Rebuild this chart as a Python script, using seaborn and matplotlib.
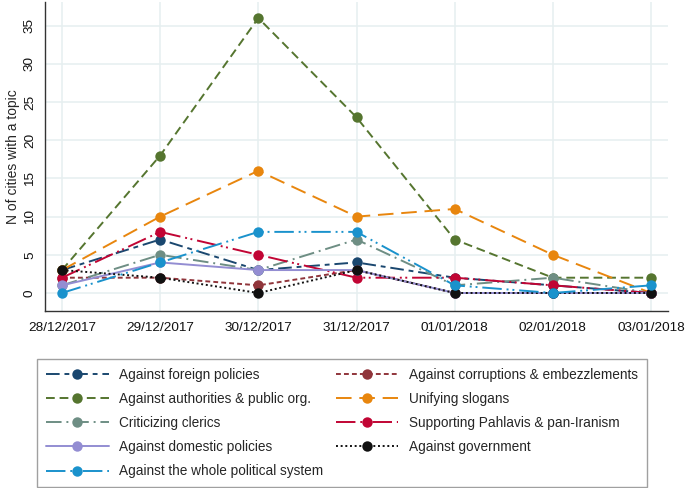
import numpy as np
import pandas as pd
import matplotlib
matplotlib.use("Agg")
import matplotlib.pyplot as plt
import seaborn as sns

# =========================
# DATA
# =========================
dates = ["28/12/2017", "29/12/2017", "30/12/2017", "31/12/2017",
         "01/01/2018", "02/01/2018", "03/01/2018"]

foreign = [3, 7, 3, 4, 2, 1, 0]
corruption = [2, 2, 1, 3, 0, 0, 0]
authorities = [3, 18, 36, 23, 7, 2, 2]
unifying = [3, 10, 16, 10, 11, 5, 0]
clerics = [1, 5, 3, 7, 1, 2, 0]
pahlavi = [2, 8, 5, 2, 2, 1, 0]
domestic = [1, 4, 3, 3, 0, 0, 0]
government = [3, 2, 0, 3, 0, 0, 0]
whole_system = [0, 4, 8, 8, 1, 0, 1]

# drawing order (later on top), same as stata series order
series = [
    ("Against foreign policies", foreign, "#1a476f", (0, (7, 2.5, 2.5, 2.5))),
    ("Against corruptions & embezzlements", corruption, "#90353b", (0, (2.5, 1.6))),
    ("Against authorities & public org.", authorities, "#55752f", (0, (4.5, 2.5))),
    ("Unifying slogans", unifying, "#e8860e", (0, (8, 4))),
    ("Criticizing clerics", clerics, "#6e8e84", (0, (8, 2.5, 1, 2.5))),
    ("Supporting Pahlavis & pan-Iranism", pahlavi, "#c10534", (0, (10, 2.5, 1, 1.8, 1, 2.5))),
    ("Against domestic policies", domestic, "#938dd2", "-"),
    ("Against government", government, "#111111", (0, (1, 1.4))),
    ("Against the whole political system", whole_system, "#1a92cc", (0, (10, 2.5, 1, 2, 1, 2.5))),
]

legend_order = [
    "Against foreign policies",
    "Against authorities & public org.",
    "Criticizing clerics",
    "Against domestic policies",
    "Against the whole political system",
    "Against corruptions & embezzlements",
    "Unifying slogans",
    "Supporting Pahlavis & pan-Iranism",
    "Against government",
]

# =========================
# PLOT
# =========================
sns.set_style("white")
plt.rcParams["font.family"] = ["Liberation Sans", "DejaVu Sans"]

fig = plt.figure(figsize=(6.85, 4.88), dpi=100)
ax = fig.add_axes([45 / 685, 1 - 311 / 488, (668 - 45) / 685, (311 - 2) / 488])

x = np.arange(len(dates))
lines = {}
for i, (name, vals, color, ls) in enumerate(series):
    df = pd.DataFrame({"x": x, "y": vals})
    sns.lineplot(data=df, x="x", y="y", ax=ax, color=color, linestyle=ls,
                 linewidth=1.4, marker="o", markersize=7.5,
                 markeredgewidth=0, legend=False, zorder=3 + i)
    lines[name] = ax.lines[-1]

ax.set_xlim(-0.173, 6.173)
ax.set_ylim(-2.36, 38.1)
ax.set_xticks(x)
ax.set_xticklabels(dates, fontsize=9.7)
ax.set_yticks(np.arange(0, 36, 5))
ax.set_yticklabels([str(v) for v in range(0, 36, 5)], fontsize=9.7,
                   rotation=90, va="center")
ax.set_xlabel("")
ax.set_ylabel("N of cities with a topic", fontsize=10, labelpad=3)

ax.grid(True, color="#e6eff0", linewidth=1.1, zorder=0)
ax.set_axisbelow(True)
for side in ["top", "right"]:
    ax.spines[side].set_visible(False)
for side in ["left", "bottom"]:
    ax.spines[side].set_color("#333333")
    ax.spines[side].set_linewidth(1.0)
ax.tick_params(axis="both", direction="out", length=5, width=1,
               color="#333333", labelcolor="#111111")
ax.tick_params(axis="x", pad=3)
ax.tick_params(axis="y", pad=1.5)

handles = [lines[n] for n in legend_order]
leg = fig.legend(handles, legend_order, ncol=2, loc="upper left",
                 bbox_to_anchor=(37 / 685, 1 - 359 / 488),
                 bbox_transform=fig.transFigure,
                 fontsize=9.8, frameon=True, fancybox=False,
                 edgecolor="#888888", handlelength=4.6, handletextpad=0.75,
                 numpoints=1, labelspacing=0.74, columnspacing=0.95,
                 borderpad=0.66, borderaxespad=0)
leg.get_frame().set_linewidth(1.0)

fig.savefig("out.png", dpi=100, facecolor="white")
